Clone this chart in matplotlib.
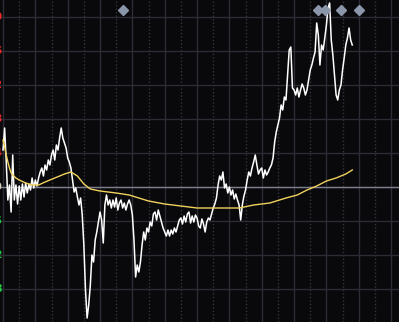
import matplotlib
matplotlib.use('Agg')
import matplotlib.pyplot as plt

# Intraday data (minute index from open, price)
prev_close = 10.00
price = [
	10.37, 10.59, 10.25, 9.87, 10.02, 9.75, 10.32, 9.87, 10.02, 9.83,
	10.01, 9.87, 10.03, 9.90, 10.04, 9.94, 10.03, 9.97, 10.09, 9.99,
	10.07, 10.01, 10.09, 10.15, 10.19, 10.11, 10.22, 10.17, 10.27, 10.22,
	10.32, 10.37, 10.27, 10.42, 10.37, 10.49, 10.59, 10.49, 10.44, 10.39,
	10.29, 10.25, 10.19, 10.07, 9.95, 9.99, 9.90, 9.82, 9.89, 9.72,
	9.42, 8.97, 8.69, 8.82, 9.02, 9.32, 9.25, 9.47, 9.55, 9.65,
	9.75, 9.67, 9.44, 9.82, 9.92, 9.82, 9.87, 9.79, 9.87, 9.80,
	9.89, 9.77, 9.84, 9.87, 9.79, 9.84, 9.77, 9.83, 9.87, 9.82,
	9.72, 9.47, 9.10, 9.22, 9.15, 9.25, 9.42, 9.55, 9.47, 9.59,
	9.55, 9.65, 9.61, 9.73, 9.75, 9.67, 9.77, 9.71, 9.65, 9.59,
	9.55, 9.51, 9.57, 9.51, 9.57, 9.53, 9.59, 9.55, 9.61, 9.67,
	9.69, 9.63, 9.71, 9.65, 9.73, 9.75, 9.64, 9.71, 9.65, 9.72,
	9.69, 9.61, 9.59, 9.68, 9.63, 9.55, 9.65, 9.69, 9.67, 9.73,
	9.79, 9.83, 9.89, 10.02, 10.11, 10.07, 10.15, 9.99, 10.03, 9.94,
	10.00, 9.92, 9.97, 9.88, 9.93, 9.87, 9.82, 9.67, 9.82, 9.91,
	9.97, 10.07, 10.15, 10.11, 10.19, 10.25, 10.32, 10.22, 10.13, 10.17,
	10.19, 10.09, 10.17, 10.12, 10.15, 10.19, 10.22, 10.29, 10.45, 10.55,
	10.62, 10.69, 10.82, 10.77, 10.90, 10.87, 11.12, 11.37, 11.40, 10.99,
	10.97, 10.92, 10.99, 10.90, 10.97, 11.03, 10.99, 10.92, 10.97, 11.07,
	11.17, 11.22, 11.29, 11.35, 11.64, 11.52, 11.22, 11.42, 11.37, 11.49,
	11.62, 11.79, 11.84, 11.47, 11.32, 11.12, 10.92, 10.87, 10.97, 11.02,
	11.17, 11.29, 11.42, 11.49, 11.59, 11.47, 11.42,
]
minutes = list(range(len(price)))

avg_minutes = [0, 1, 2, 3, 4, 5, 6, 8, 10, 14, 18, 22, 26, 32, 38, 42, 46, 50, 54, 60,
	70, 78, 90, 100, 110, 120, 135, 146, 155, 165, 175, 182, 188, 194, 200, 206, 212, 216]
avg_price = [10.47, 10.40, 10.32, 10.25, 10.19, 10.14, 10.12, 10.09, 10.07, 10.04,
	10.02, 10.02, 10.05, 10.09, 10.13, 10.15, 10.11, 10.03, 9.98, 9.96,
	9.94, 9.92, 9.86, 9.83, 9.81, 9.79, 9.79, 9.79, 9.82, 9.84,
	9.89, 9.92, 9.97, 10.01, 10.06, 10.09, 10.13, 10.17]

# event markers along the top
event_minutes = [74, 195, 199, 209, 220]
event_level = 11.77

# price grid levels and their labels
levels = [11.70, 11.36, 11.02, 10.68, 10.34, 10.00, 9.66, 9.32, 8.98]

bg = '#09090c'
fig = plt.figure(figsize=(3.99, 3.22), dpi=100, facecolor=bg)
ax = fig.add_axes([0, 0, 1, 1], facecolor=bg)

ax.set_xlim(-1.86, 244.9)
ax.set_ylim(8.65, 11.87)

ax.set_xticks(range(0, 241, 20))
ax.set_xticks(range(10, 240, 20), minor=True)
ax.set_yticks(levels)
ax.grid(which='major', color='#2c2c34', linewidth=1.0, linestyle='-')
ax.grid(which='minor', axis='x', color='#34343e', linewidth=1.0, linestyle=(0, (1, 1.5)))
ax.tick_params(which='both', length=0, labelbottom=False, labelleft=False)
for s in ax.spines.values():
	s.set_visible(False)

ax.axhline(prev_close, color='#7e7e8c', linewidth=1.0, zorder=2)

ax.plot(minutes, price, color='white', linewidth=1.1, zorder=3)
ax.plot(avg_minutes, avg_price, color='#f0d25c', linewidth=1.0, zorder=4)

ax.plot(event_minutes, [event_level] * len(event_minutes), linestyle='none',
	marker='D', markersize=5, color='#8c96aa', zorder=5)

# left price labels, mostly cut off by the edge
for lv in levels:
	if lv > prev_close:
		c = '#e8282a'
	elif lv < prev_close:
		c = '#22c844'
	else:
		c = '#d8d0b8'
	ax.text(-0.2, lv, '%.2f' % lv, color=c, fontsize=8, ha='right', va='center',
		clip_on=False, fontweight='bold')

fig.savefig('out.png', dpi=100, facecolor=bg)
